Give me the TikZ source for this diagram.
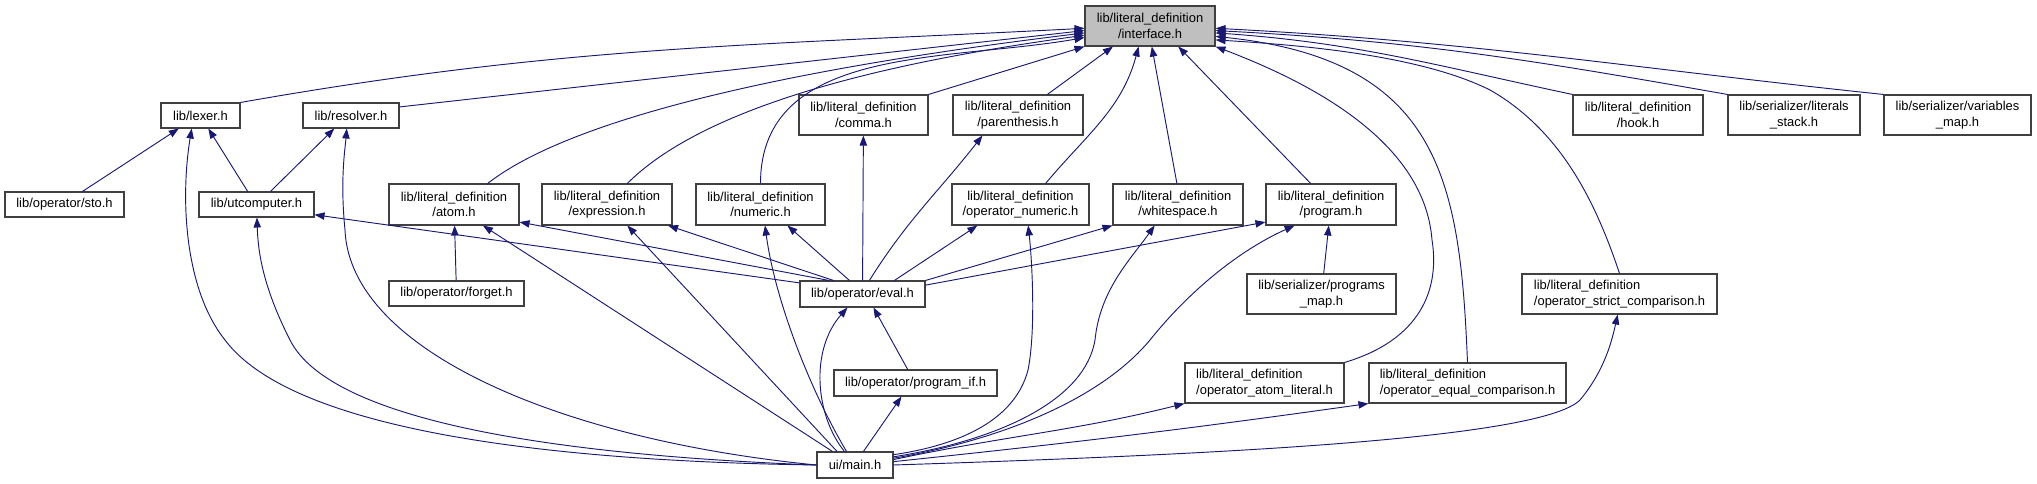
\documentclass[tikz,border=0pt]{standalone}
\usepackage{fontspec}
\setmainfont{Liberation Sans}
\usetikzlibrary{arrows.meta}
\definecolor{edgeblue}{RGB}{25,25,112}
\definecolor{boxgray}{RGB}{191,191,191}

\begin{document}
\begin{tikzpicture}[x=0.75pt,y=0.75pt,
    file/.style={draw=black!75, line width=0.8pt, fill=white, inner sep=0pt,
        font=\fontsize{9.7}{11.5}\selectfont, align=center},
    sz/.style 2 args={minimum width=#1*0.75pt, minimum height=#2*0.75pt},
    dep/.style={draw=edgeblue, line width=0.7pt, -{Triangle[length=7.5pt,width=5.5pt]}}]
\useasboundingbox (0,0) rectangle (2037,-484);

% header nodes
\node[file, sz={130}{40}, fill=boxgray] (interface) at (1150,-26) {lib/literal\_definition\\/interface.h};
\node[file, sz={79}{25}] (lexer) at (200.5,-115.5) {lib/lexer.h};
\node[file, sz={96}{25}] (resolver) at (351,-115.5) {lib/resolver.h};
\node[file, sz={129}{40}] (comma) at (863.5,-115) {lib/literal\_definition\\/comma.h};
\node[file, sz={130}{40}] (paren) at (1018,-115) {lib/literal\_definition\\/parenthesis.h};
\node[file, sz={130}{40}] (hook) at (1638,-115) {lib/literal\_definition\\/hook.h};
\node[file, sz={132}{40}] (litstack) at (1794,-115) {lib/serializer/literals\\\_stack.h};
\node[file, sz={147}{40}] (varmap) at (1957.5,-115) {lib/serializer/variables\\\_map.h};
\node[file, sz={119}{25}] (sto) at (64.5,-204.5) {lib/operator/sto.h};
\node[file, sz={115}{25}] (utcomp) at (256.5,-204.5) {lib/utcomputer.h};
\node[file, sz={130}{41}] (atom) at (454,-204.5) {lib/literal\_definition\\/atom.h};
\node[file, sz={130}{41}] (expr) at (607,-204.5) {lib/literal\_definition\\/expression.h};
\node[file, sz={129}{41}] (numeric) at (760.5,-204.5) {lib/literal\_definition\\/numeric.h};
\node[file, sz={137}{41}] (opnum) at (1020.5,-204.5) {lib/literal\_definition\\/operator\_numeric.h};
\node[file, sz={130}{41}] (white) at (1178,-204.5) {lib/literal\_definition\\/whitespace.h};
\node[file, sz={130}{41}] (program) at (1331,-204.5) {lib/literal\_definition\\/program.h};
\node[file, sz={135}{25}] (forget) at (456.5,-293.5) {lib/operator/forget.h};
\node[file, sz={125}{26}] (eval) at (862.5,-294) {lib/operator/eval.h};
\node[file, sz={149}{40}] (progmap) at (1321.5,-294) {lib/serializer/programs\\\_map.h};
\node[file, sz={195}{40}, align=left] (strict) at (1619.5,-294) {lib/literal\_definition\\/operator\_strict\_comparison.h};
\node[file, sz={163}{26}] (progif) at (915.5,-383) {lib/operator/program\_if.h};
\node[file, sz={159}{40}, align=left] (atomlit) at (1264.5,-383) {lib/literal\_definition\\/operator\_atom\_literal.h};
\node[file, sz={197}{40}, align=left] (equal) at (1467.5,-383) {lib/literal\_definition\\/operator\_equal\_comparison.h};
\node[file, sz={76}{26}] (main) at (855,-465) {ui/main.h};

% into interface.h
\draw[dep] (lexer.north east) to[out=10,in=183] (interface.182);
\draw[dep] (resolver.10) -- (interface.184);
\draw[dep] (atom.32) to[out=38,in=187,looseness=0.6] (interface.186);
\draw[dep] (expr.46) to[out=45,in=188,looseness=0.7] (interface.188);
\draw[dep] (numeric.north) to[out=90,in=190] (interface.190);
\draw[dep] (comma.north east) -- (interface.south west);
\draw[dep] (paren.35) -- (interface.-151);
\draw[dep] (opnum.40) to[out=50,in=-105] (interface.-119);
\draw[dep] (white.93) -- (interface.-85);
\draw[dep] (program.134) -- (interface.-36);
\draw[dep] (hook.north west) to[out=168,in=-4] (interface.-6);
\draw[dep] (litstack.north west) to[out=170,in=-3] (interface.-4);
\draw[dep] (varmap.north west) to[out=174,in=-3] (interface.-2);
\draw[dep] (atomlit.north east) .. controls (1420,-340) and (1440,-290) .. (1432,-240)
    .. controls (1425,-150) and (1330,-90) .. (interface.south east);
\draw[dep] (equal.north) .. controls (1460,-180) and (1440,-60) .. (interface.-9);
\draw[dep] (strict.north) .. controls (1595,-200) and (1560,-130) .. (1490,-90)
    .. controls (1420,-55) and (1300,-45) .. (interface.-12);

% lexer.h and resolver.h
\draw[dep] (sto.36) -- (lexer.-149);
\draw[dep] (utcomp.124) -- (lexer.-59);
\draw[dep] (main.west) .. controls (600,-462) and (300,-440) .. (225,-340)
    .. controls (185,-290) and (180,-200) .. (lexer.-124);
\draw[dep] (utcomp.43) -- (resolver.-142);
\draw[dep] (main.west) .. controls (560,-440) and (350,-350) .. (345,-230)
    .. controls (340,-180) and (345,-150) .. (resolver.-108);

% utcomputer.h
\draw[dep] (eval.170) -- (utcomp.-10);
\draw[dep] (main.west) .. controls (550,-455) and (330,-420) .. (290,-340)
    .. controls (262,-285) and (258,-250) .. (utcomp.-88);

% atom.h, expression.h, numeric.h
\draw[dep] (forget) -- (atom);
\draw[dep] (eval.158) -- (atom.-15);
\draw[dep] (main.149) -- (atom.-36);
\draw[dep] (eval.155) -- (expr.-19);
\draw[dep] (main.143) -- (expr.-46);
\draw[dep] (eval.134) -- (numeric.-38);
\draw[dep] (main.122) .. controls (810,-390) and (775,-300) .. (numeric.-78);

% comma.h, parenthesis.h, operator_numeric.h
\draw[dep] (eval) -- (comma);
\draw[dep] (eval.63) to[out=58,in=-128] (paren.-150);
\draw[dep] (eval.23) -- (opnum.-154);
\draw[dep] (main.15) .. controls (960,-445) and (1015,-420) .. (1028,-370)
    .. controls (1036,-330) and (1032,-260) .. (opnum.-70);

% whitespace.h and program.h
\draw[dep] (eval.north east) -- (white.south west);
\draw[dep] (main.12) .. controls (1000,-440) and (1085,-400) .. (1095,-340)
    .. controls (1100,-290) and (1130,-260) .. (white.-138);
\draw[dep] (eval.8) -- (program.-165);
\draw[dep] (progmap) -- (program);
\draw[dep] (main.10) .. controls (1000,-440) and (1100,-400) .. (1150,-340)
    .. controls (1190,-290) and (1240,-250) .. (program.-150);

% eval.h and program_if.h
\draw[dep] (main.128) .. controls (815,-415) and (810,-350) .. (eval.-138);
\draw[dep] (progif.120) -- (eval.-51);
\draw[dep] (main.58) -- (progif.-136);

% operator headers on the right
\draw[dep] (main.8) to[out=12,in=-166] (atomlit.south west);
\draw[dep] (main.5) to[out=6,in=-172] (equal.south west);
\draw[dep] (main.east) .. controls (1200,-455) and (1540,-440) .. (1580,-400)
    .. controls (1605,-370) and (1612,-340) .. (strict.-95);
\end{tikzpicture}
\end{document}
